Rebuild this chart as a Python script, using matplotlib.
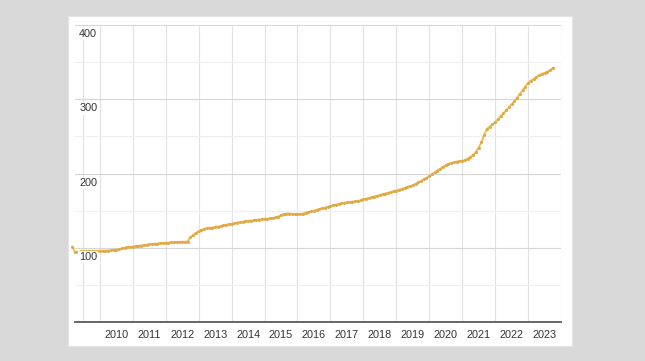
import numpy as np
import matplotlib.pyplot as plt
from matplotlib.ticker import MultipleLocator

plt.rcParams['font.family'] = ['Liberation Sans', 'DejaVu Sans']

# monthly index values, first point is September 2008
start_year = 2008
start_month = 9
values = [
    101, 94, 94.5, 95,                                                       # 2008
    95, 95, 95.2, 95.3, 95.5, 95.6, 95.8, 96, 96, 96.2, 96.5, 97,            # 2009
    97.5, 98, 99, 100, 100.5, 101, 101.5, 102, 102.5, 103, 103.5, 104,       # 2010
    104.5, 105, 105.3, 105.6, 106, 106.3, 106.6, 107, 107.2, 107.4, 107.6, 107.8,  # 2011
    108, 108, 108.2, 114, 117, 120, 122, 124, 125.5, 126.5, 127, 127,        # 2012
    128, 128.5, 129, 130, 131, 131.5, 132, 133, 134, 134.5, 135, 135.5,      # 2013
    136, 136.5, 137, 137.5, 138, 138.5, 139, 139, 139.5, 140, 141, 142,      # 2014
    144, 145, 146, 146, 145.5, 145, 145, 145.5, 146, 147, 148, 149,          # 2015
    150, 151, 152, 153, 154, 155, 156, 157, 158, 159, 160, 160.5,            # 2016
    161, 161.5, 162, 162.5, 163, 164, 165, 166, 167, 168, 169, 170,          # 2017
    171, 172, 173, 174, 175, 176, 177, 178, 179, 180.5, 182, 183,            # 2018
    184, 186, 188, 190, 192, 194, 196.5, 199, 201.5, 204, 206.5, 209,        # 2019
    211, 213, 214, 215, 216, 216.5, 217, 218, 220, 222, 225, 229,            # 2020
    235, 242, 252, 260, 263, 266, 269, 273, 277, 281, 285, 289,              # 2021
    293, 297, 302, 307, 312, 317, 322, 325, 327, 330, 332, 334,              # 2022
    335.5, 337, 339, 342,                                                    # 2023
]
year_labels = list(range(2010, 2024))
y_ticks = [100, 200, 300, 400]

months = np.arange(len(values)) + (start_month - 1)
x = start_year + months / 12.0

fig = plt.figure(figsize=(6.45, 3.61), dpi=100)
fig.patch.set_facecolor('#d9d9d9')

# white card behind the chart
card = fig.add_axes([68 / 645, 15 / 361, 504 / 645, 330 / 361], zorder=-1)
card.set_facecolor('white')
card.set_xticks([])
card.set_yticks([])
for s in card.spines.values():
    s.set_color('#e4e4e4')

ax = fig.add_axes([75 / 645, 39 / 361, 486 / 645, 297 / 361], zorder=1)
ax.set_facecolor('none')
ax.set_xlim(2008.746, 2023.254)
ax.set_ylim(0, 400)

# grid
ax.yaxis.set_major_locator(MultipleLocator(100))
ax.yaxis.set_minor_locator(MultipleLocator(50))
ax.set_xticks(year_labels)
ax.set_xticks(np.arange(2009, 2023.6, 0.5), minor=True)
ax.grid(True, which='major', axis='y', color='#d6d6d6', lw=0.8)
ax.grid(True, which='minor', axis='y', color='#efefef', lw=0.8)
ax.grid(True, which='minor', axis='x', color='#e2e2e2', lw=0.8)
ax.set_axisbelow(True)

for s in ['top', 'right', 'left']:
    ax.spines[s].set_visible(False)
ax.spines['bottom'].set_color('#5a5a5a')
ax.spines['bottom'].set_linewidth(1.3)

ax.set_xticklabels([str(y) for y in year_labels], fontsize=7.8, color='#333333')
ax.tick_params(axis='x', which='both', length=0, pad=6)
ax.tick_params(axis='y', which='both', length=0, labelleft=False)

ax.plot(x, values, color='#f3c055', lw=1.5, marker='o', markersize=1.2,
        markerfacecolor='#dfa847', markeredgecolor='#dfa847', clip_on=False, zorder=3)

# y labels sit just under their gridline, inside the plot, over the line
for v in y_ticks:
    ax.annotate(str(v), xy=(0, v), xycoords=('axes fraction', 'data'),
                xytext=(3, -3), textcoords='offset points', ha='left', va='top',
                fontsize=7.8, color='#333333', zorder=5,
                bbox=dict(boxstyle='square,pad=0.1', fc='white', ec='none'))

fig.savefig('out.png', dpi=100, facecolor=fig.get_facecolor())
